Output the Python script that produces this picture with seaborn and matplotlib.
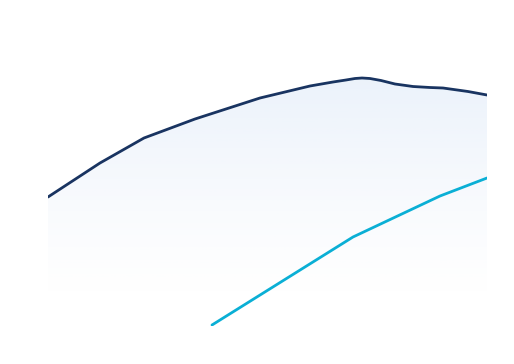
import matplotlib
matplotlib.use("Agg")
import matplotlib.pyplot as plt
import numpy as np
import pandas as pd
import seaborn as sns
from matplotlib.patches import Polygon

# values (x along the period, y upward)
navy_x = [0, 52, 96, 147, 212, 262, 285, 298, 307, 314, 322, 333, 347, 365, 382, 395, 420, 439]
navy_y = [129, 163, 188, 207, 228, 240, 244, 246, 247.5, 248, 247.5, 245.5, 242, 239.5, 238.5, 238, 234.5, 231]
cyan_x = [164, 305, 392, 439]
cyan_y = [1, 89, 130, 148]

sns.set_theme(style="white")

navy = pd.DataFrame({"x": navy_x, "y": navy_y})
cyan = pd.DataFrame({"x": cyan_x, "y": cyan_y})

fig = plt.figure(figsize=(5.14, 3.64), dpi=100)
ax = fig.add_axes([48 / 514, 38 / 364, 439 / 514, 306 / 364])

# gradient under the navy line, fading to white near the bottom
grad = np.zeros((256, 1, 4))
grad[:, 0, 0] = 0.80
grad[:, 0, 1] = 0.87
grad[:, 0, 2] = 0.96
grad[:, 0, 3] = np.linspace(0.0, 0.45, 256) ** 1.2
img = ax.imshow(grad, aspect="auto", origin="lower",
                extent=[0, 439, 30, 250], zorder=1)
poly = Polygon(np.column_stack([navy_x + [439, 0], navy_y + [0, 0]]),
               closed=True, facecolor="none", edgecolor="none")
ax.add_patch(poly)
img.set_clip_path(poly)

sns.lineplot(data=navy, x="x", y="y", ax=ax, color="#193461",
             linewidth=2.0, zorder=3)
sns.lineplot(data=cyan, x="x", y="y", ax=ax, color="#0aafd5",
             linewidth=2.0, zorder=3)

ax.set_xlim(0, 439)
ax.set_ylim(0, 306)
ax.set_axis_off()

fig.savefig("out.png", dpi=100, facecolor="white")
